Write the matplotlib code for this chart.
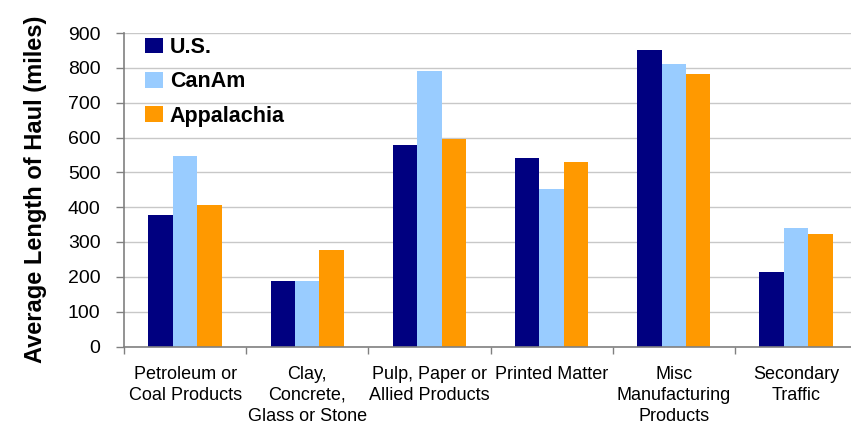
import matplotlib
matplotlib.use("Agg")
import matplotlib.pyplot as plt
import numpy as np

# data
categories = ["Petroleum or\nCoal Products", "Clay,\nConcrete,\nGlass or Stone",
              "Pulp, Paper or\nAllied Products", "Printed Matter",
              "Misc\nManufacturing\nProducts", "Secondary\nTraffic"]
series_names = ["U.S.", "CanAm", "Appalachia"]
us_values = [378, 188, 579, 542, 852, 214]
canam_values = [548, 188, 790, 453, 812, 341]
appalachia_values = [407, 278, 597, 531, 783, 324]
y_ticks = [0, 100, 200, 300, 400, 500, 600, 700, 800, 900]

colors = ["#000080", "#99CCFF", "#FF9900"]

plt.rcParams["font.family"] = ["Liberation Sans", "DejaVu Sans"]

fig = plt.figure(figsize=(8.51, 4.29), dpi=100)
ax = fig.add_axes([124 / 851, (429 - 346.5) / 429, (857 - 124) / 851, (346.5 - 33) / 429])

x = np.arange(len(categories))
w = 0.2
for i, (vals, name) in enumerate(zip([us_values, canam_values, appalachia_values], series_names)):
    ax.bar(x + (i - 1) * w, vals, width=w, color=colors[i], label=name, zorder=2)

ax.set_xlim(-0.5, len(categories) - 0.5)
ax.set_ylim(0, 900)
ax.set_yticks(y_ticks)
ax.set_yticklabels([str(t) for t in y_ticks], fontsize=14)
ax.yaxis.grid(True, color="#C8C8C8", linewidth=1, zorder=0)
ax.set_axisbelow(True)

# category labels centred, tick marks between groups
ax.set_xticks(x)
ax.set_xticklabels(categories, fontsize=13, linespacing=1.3)
ax.set_xticks(np.arange(len(categories) + 1) - 0.5, minor=True)
ax.tick_params(axis="x", which="major", length=0, pad=14)
ax.tick_params(axis="x", which="minor", length=5, color="#808080", width=1)
ax.tick_params(axis="y", length=6, color="#808080", width=1, pad=11)

for s in ["top", "right"]:
    ax.spines[s].set_visible(False)
for s in ["left", "bottom"]:
    ax.spines[s].set_color("#808080")
    ax.spines[s].set_linewidth(1.2)

ax.set_ylabel("Average Length of Haul (miles)", fontsize=17, fontweight="bold", labelpad=15)

leg = ax.legend(loc="upper left", bbox_to_anchor=(0.008, 1.035), frameon=False,
                prop={"weight": "bold", "size": 15.5}, handlelength=0.85, handleheight=0.75,
                labelspacing=0.62, handletextpad=0.3, borderaxespad=0.3)

fig.savefig("out.png", dpi=100)
